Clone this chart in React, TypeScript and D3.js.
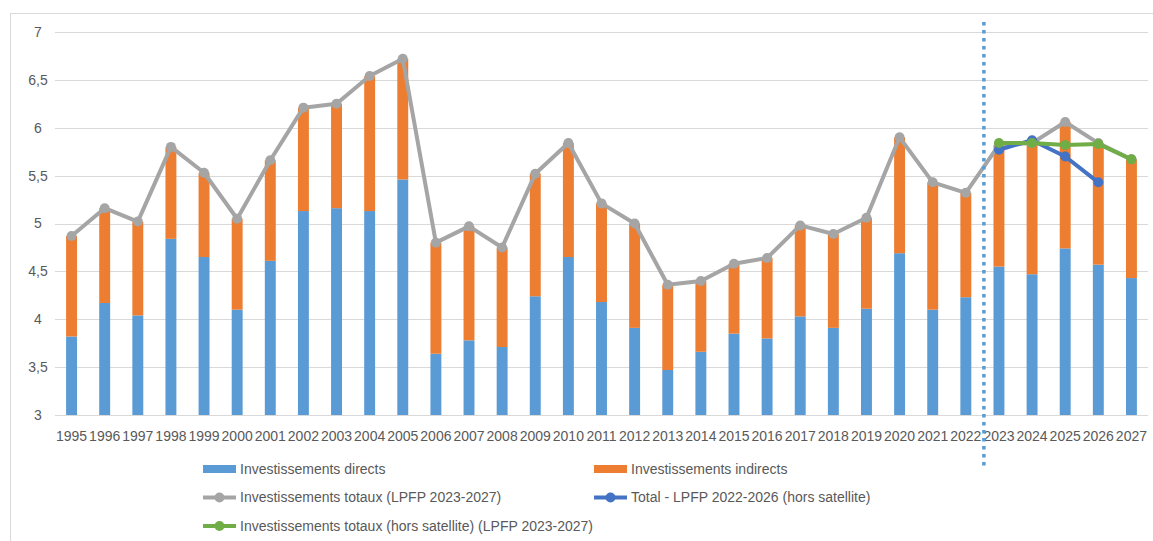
import React from "react";
import * as d3 from "d3";

const years = d3.range(1995, 2028).map(String);
const direct = [3.82, 4.17, 4.04, 4.84, 4.65, 4.10, 4.61, 5.13, 5.16, 5.13, 5.46, 3.64, 3.78, 3.71, 4.24, 4.65, 4.18, 3.91, 3.47, 3.66, 3.85, 3.80, 4.03, 3.91, 4.11, 4.69, 4.10, 4.23, 4.55, 4.47, 4.74, 4.57, 4.43];
const indirect = [1.05, 0.99, 0.98, 0.96, 0.88, 0.95, 1.05, 1.08, 1.09, 1.41, 1.26, 1.16, 1.19, 1.04, 1.28, 1.19, 1.03, 1.09, 0.89, 0.74, 0.73, 0.84, 0.95, 0.98, 0.95, 1.21, 1.33, 1.09, 1.27, 1.37, 1.32, 1.27, 1.24];
const totalLPFP2327 = [4.87, 5.16, 5.02, 5.80, 5.53, 5.05, 5.66, 6.21, 6.25, 6.54, 6.72, 4.80, 4.97, 4.75, 5.52, 5.84, 5.21, 5.00, 4.36, 4.40, 4.58, 4.64, 4.98, 4.89, 5.06, 5.90, 5.43, 5.32, 5.82, 5.84, 6.06, 5.84, 5.67];
const lpfp2226Years = ["2023", "2024", "2025", "2026"];
const lpfp2226 = [5.77, 5.87, 5.70, 5.43];
const horsSatYears = ["2023", "2024", "2025", "2026", "2027"];
const horsSat = [5.84, 5.84, 5.82, 5.83, 5.67];
const yTicks = [3, 3.5, 4, 4.5, 5, 5.5, 6, 6.5, 7];
const dividerAfter = "2022";

const C = {
  blue: "#5B9BD5",
  orange: "#ED7D31",
  gray: "#A5A5A5",
  lineBlue: "#4472C4",
  green: "#70AD47",
  grid: "#D9D9D9",
  text: "#595959",
};

const FONT = "'Liberation Sans', Arial, sans-serif";

export default function App() {
  const W = 1153, H = 541;
  const x = d3.scaleBand<string>().domain(years).range([55, 1148]).padding(0);
  const y = d3.scaleLinear().domain([3, 7]).range([415, 32]);
  const bw = x.step() * 0.33;
  const cx = (yr: string) => (x(yr) as number) + x.bandwidth() / 2;

  const line = d3
    .line<[string, number]>()
    .x((d) => cx(d[0]))
    .y((d) => y(d[1]));

  const grayPts: [string, number][] = years.map((yr, i) => [yr, totalLPFP2327[i]]);
  const bluePts: [string, number][] = lpfp2226Years.map((yr, i) => [yr, lpfp2226[i]]);
  const greenPts: [string, number][] = horsSatYears.map((yr, i) => [yr, horsSat[i]]);

  const divX = (x(dividerAfter) as number) + x.step() + 1.5;
  const fmt = (v: number) => String(v).replace(".", ",");

  const legend = [
    { kind: "rect", color: C.blue, label: "Investissements directs", lx: 203, ly: 469 },
    { kind: "rect", color: C.orange, label: "Investissements indirects", lx: 594, ly: 469 },
    { kind: "line", color: C.gray, label: "Investissements totaux (LPFP 2023-2027)", lx: 203, ly: 497.5 },
    { kind: "line", color: C.lineBlue, label: "Total - LPFP 2022-2026 (hors satellite)", lx: 594, ly: 497.5 },
    { kind: "line", color: C.green, label: "Investissements totaux (hors satellite) (LPFP 2023-2027)", lx: 203, ly: 526 },
  ];

  const series = [
    { pts: grayPts, color: C.gray },
    { pts: bluePts, color: C.lineBlue },
    { pts: greenPts, color: C.green },
  ];

  return (
    <svg
      width={W}
      height={H}
      style={{ position: "absolute", left: 0, top: 0, background: "#fff" }}
      fontFamily={FONT}
    >
      <rect x={10.5} y={13.5} width={W + 20} height={H + 20} fill="#fff" stroke={C.grid} strokeWidth={1} />
      {yTicks.map((t) => (
        <g key={t}>
          <line x1={55} x2={1148} y1={Math.round(y(t)) + 0.5} y2={Math.round(y(t)) + 0.5} stroke={C.grid} strokeWidth={1.2} />
          <text x={38} y={y(t)} dy="0.35em" textAnchor="middle" fontSize={14} fill={C.text}>
            {fmt(t)}
          </text>
        </g>
      ))}
      {years.map((yr, i) => (
        <g key={yr}>
          <rect x={cx(yr) - bw / 2} y={y(direct[i])} width={bw} height={y(3) - y(direct[i])} fill={C.blue} />
          <rect
            x={cx(yr) - bw / 2}
            y={y(direct[i] + indirect[i])}
            width={bw}
            height={y(direct[i]) - y(direct[i] + indirect[i])}
            fill={C.orange}
          />
          <text x={cx(yr)} y={441} textAnchor="middle" fontSize={14} fill={C.text}>
            {yr}
          </text>
        </g>
      ))}
      {series.map((s, k) => (
        <g key={k}>
          <path d={line(s.pts) || ""} fill="none" stroke={s.color} strokeWidth={4} strokeLinejoin="round" />
          {s.pts.map((p) => (
            <circle key={p[0]} cx={cx(p[0])} cy={y(p[1])} r={5} fill={s.color} />
          ))}
        </g>
      ))}
      <line x1={divX} x2={divX} y1={22} y2={469} stroke={C.blue} strokeWidth={3.5} strokeDasharray="3.5,4.5" />
      {legend.map((l) => (
        <g key={l.label}>
          {l.kind === "rect" ? (
            <rect x={l.lx} y={l.ly - 4} width={33} height={8} fill={l.color} />
          ) : (
            <g>
              <line x1={l.lx} x2={l.lx + 33} y1={l.ly} y2={l.ly} stroke={l.color} strokeWidth={4} />
              <circle cx={l.lx + 16.5} cy={l.ly} r={5} fill={l.color} />
            </g>
          )}
          <text x={l.lx + 37} y={l.ly} dy="0.35em" fontSize={14} fill={C.text}>
            {l.label}
          </text>
        </g>
      ))}
    </svg>
  );
}
